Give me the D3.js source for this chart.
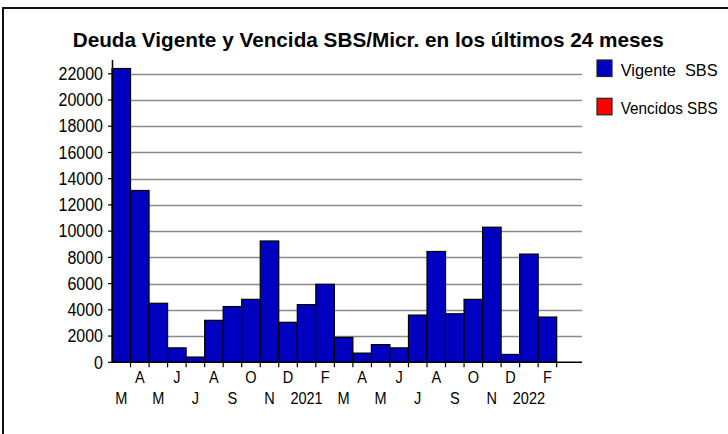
<!DOCTYPE html>
<html>
<head>
<meta charset="utf-8">
<script src="https://cdn.jsdelivr.net/npm/d3@7"></script>
<style>
  html, body { margin: 0; padding: 0; background: #fff; }
  svg { display: block; }
  text { font-family: "Liberation Sans", Arial, sans-serif; fill: #000; }
</style>
</head>
<body>
<svg id="chart" width="728" height="434"></svg>
<script>
// ---- data ----
const titleText = "Deuda Vigente y Vencida SBS/Micr. en los últimos 24 meses";
const categories = ["M","A","M","J","J","A","S","O","N","D","2021","F",
                    "M","A","M","J","J","A","S","O","N","D","2022","F"];
const vigenteSBS = [22400, 13100, 4500, 1100, 400, 3200, 4250, 4800, 9250, 3050, 4400, 5950,
                    1900, 700, 1350, 1100, 3600, 8450, 3700, 4800, 10300, 600, 8250, 3450];
const vencidosSBS = [0,0,0,0,0,0,0,0,0,0,0,0,0,0,0,0,0,0,0,0,0,0,0,0];
const yTicks = [0,2000,4000,6000,8000,10000,12000,14000,16000,18000,20000,22000];
const legendLabels = ["Vigente  SBS", "Vencidos SBS"];
const legendColors = ["#0000c0", "#ff0000"];

const svg = d3.select("#chart");

// frame (left + top edges)
svg.append("path")
  .attr("d", "M3,434V8H728")
  .attr("fill", "none").attr("stroke", "#111").attr("stroke-width", 2);

const x = d3.scaleBand().domain(d3.range(categories.length)).range([112, 556.7]).padding(0);
const y = d3.scaleLinear().domain([0, 23050]).range([362.3, 60]);
const axisRight = 582;

// gridlines
svg.append("g").selectAll("line")
  .data(yTicks.filter(d => d > 0))
  .join("line")
  .attr("x1", 112).attr("x2", axisRight)
  .attr("y1", d => Math.round(y(d)) + 0.5).attr("y2", d => Math.round(y(d)) + 0.5)
  .attr("stroke", "#8a8a8a").attr("stroke-width", 1.3);

// bars (vigente)
svg.append("g").selectAll("rect")
  .data(vigenteSBS)
  .join("rect")
  .attr("x", (d, i) => x(i))
  .attr("width", x.bandwidth())
  .attr("y", d => y(d))
  .attr("height", d => y(0) - y(d))
  .attr("fill", legendColors[0])
  .attr("stroke", "#000").attr("stroke-width", 1.2);

// bars (vencidos) - all zero, stacked on top of vigente
svg.append("g").selectAll("rect")
  .data(vencidosSBS.map((d, i) => ({ v: d, i })).filter(d => d.v > 0))
  .join("rect")
  .attr("x", d => x(d.i))
  .attr("width", x.bandwidth())
  .attr("y", d => y(vigenteSBS[d.i] + d.v))
  .attr("height", d => y(vigenteSBS[d.i]) - y(vigenteSBS[d.i] + d.v))
  .attr("fill", legendColors[1])
  .attr("stroke", "#000").attr("stroke-width", 1.2);

// y axis line
svg.append("line")
  .attr("x1", 112.5).attr("x2", 112.5)
  .attr("y1", y.range()[1]).attr("y2", y(0) + 0.5)
  .attr("stroke", "#000").attr("stroke-width", 1.5);
// x axis baseline
svg.append("line")
  .attr("x1", 112).attr("x2", axisRight)
  .attr("y1", y(0)).attr("y2", y(0))
  .attr("stroke", "#000").attr("stroke-width", 1.5);

// y ticks + labels
const yg = svg.append("g");
yg.selectAll("line").data(yTicks).join("line")
  .attr("x1", 108).attr("x2", 112)
  .attr("y1", d => y(d)).attr("y2", d => y(d))
  .attr("stroke", "#000").attr("stroke-width", 1.2);
yg.selectAll("text").data(yTicks).join("text")
  .attr("x", 103).attr("y", d => y(d) + 6.2)
  .attr("text-anchor", "end")
  .attr("font-size", 17.5)
  .attr("textLength", d => String(d).length * 8.9)
  .attr("lengthAdjust", "spacingAndGlyphs")
  .text(d => d);

// x ticks at band boundaries
const bounds = d3.range(1, categories.length + 1).map(i => x.range()[0] + i * x.step());
svg.append("g").selectAll("line").data(bounds).join("line")
  .attr("x1", d => d).attr("x2", d => d)
  .attr("y1", y(0)).attr("y2", y(0) + 5)
  .attr("stroke", "#000").attr("stroke-width", 1.2);

// x labels (staggered)
svg.append("g").selectAll("text").data(categories).join("text")
  .attr("x", (d, i) => x(i) + x.bandwidth() / 2)
  .attr("y", (d, i) => i % 2 === 0 ? 403.5 : 383)
  .attr("text-anchor", "middle")
  .attr("font-size", 16.5)
  .text(d => d)
  .each(function () {
    const w = this.getComputedTextLength();
    d3.select(this).attr("textLength", w * 0.88).attr("lengthAdjust", "spacingAndGlyphs");
  });

// title
svg.append("text")
  .attr("x", 72.7).attr("y", 46.7)
  .attr("font-size", 21).attr("font-weight", "bold")
  .attr("textLength", 591).attr("lengthAdjust", "spacingAndGlyphs")
  .text(titleText);

// legend
const lg = svg.append("g");
const legendY = [60, 98.3];
lg.selectAll("rect").data(legendLabels).join("rect")
  .attr("x", 597).attr("y", (d, i) => legendY[i])
  .attr("width", 15).attr("height", 16.5)
  .attr("fill", (d, i) => legendColors[i])
  .attr("stroke", "#222").attr("stroke-width", 1.2);
lg.selectAll("text").data(legendLabels).join("text")
  .attr("x", 620.7).attr("y", (d, i) => legendY[i] + 15.5)
  .attr("font-size", 17)
  .attr("textLength", 97).attr("lengthAdjust", "spacingAndGlyphs")
  .attr("xml:space", "preserve")
  .style("white-space", "pre")
  .text(d => d);
</script>
</body>
</html>
